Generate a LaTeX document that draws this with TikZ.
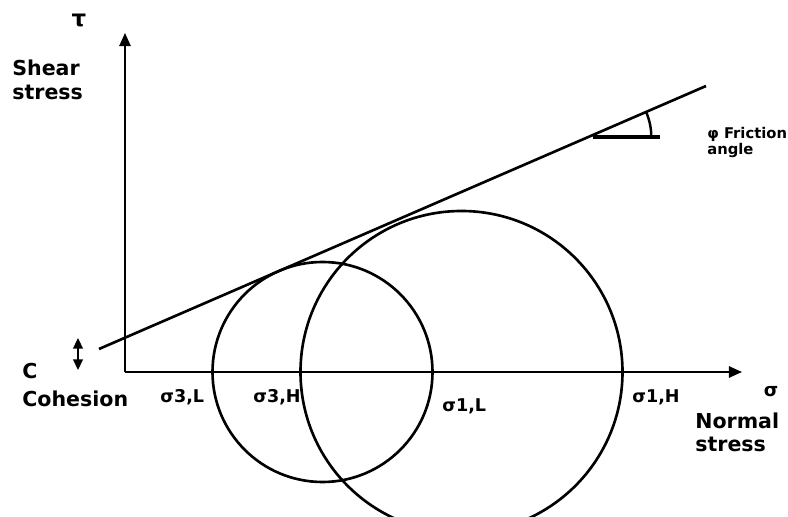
\documentclass[tikz,border=0pt]{standalone}
\usepackage{fontspec}
\setmainfont{DejaVu Sans}
\usetikzlibrary{arrows.meta}

\begin{document}
\begin{tikzpicture}[
    x=0.02cm, y=0.02cm,
    axis/.style={draw=black, line width=1pt, -{Triangle[length=7.5pt, width=6.5pt]}},
    mohr/.style={draw=black, line width=1.5pt},
    envelope/.style={draw=black, line width=1.5pt},
    biglabel/.style={font=\fontsize{11.7}{14.2}\selectfont\bfseries, align=left, anchor=base west, inner sep=0pt},
    sigmalabel/.style={font=\fontsize{10}{11}\selectfont\bfseries, anchor=base west, inner sep=0pt}
]
    \clip (0,0) rectangle (788,517);

    % Assi (tau verticale, sigma orizzontale)
    \coordinate (O) at (125,145);
    \coordinate (tauend) at (125,484);
    \coordinate (sigend) at (742,145);
    \draw[axis] (O) -- (tauend);
    \draw[axis] (O) -- (sigend);

    % Cerchi di Mohr (prova L e prova H)
    \draw[mohr] (322.5,145) circle[radius=110];
    \draw[mohr] (461.5,145) circle[radius=161];

    % Inviluppo di rottura
    \coordinate (envA) at (99,168);
    \coordinate (envB) at (706,431);
    \draw[envelope] (envA) -- (envB);

    % Angolo di attrito
    \coordinate (phiC) at (588.3,380);
    \coordinate (phiL) at (593,380);
    \coordinate (phiR) at (660,380);
    \draw[line width=1.9pt] (phiL) -- (phiR);
    \draw[line width=1.4pt] ([shift={(0:63)}]phiC) arc[start angle=0, end angle=23.4, radius=63];

    % Coesione (freccia doppia)
    \coordinate (cTop) at (78,179);
    \coordinate (cBot) at (78,147);
    \draw[line width=1pt, {Triangle[length=6pt, width=5.5pt]}-{Triangle[length=6pt, width=5.5pt]}] (cTop) -- (cBot);

    % Etichette degli assi (ancorate alla base dell'ultima riga)
    \node[font=\fontsize{13}{15}\selectfont\bfseries] (tau) at (79,497) {τ};
    \node[biglabel] (shear) at (12,417) {Shear\\stress};
    \node[font=\fontsize{10.5}{12}\selectfont\bfseries] (sigma) at (771,125) {σ};
    \node[biglabel, font=\fontsize{11.7}{13.6}\selectfont\bfseries] (normal) at (695,65) {Normal\\stress};
    \node[biglabel, font=\fontsize{11.7}{16.4}\selectfont\bfseries] (cohesion) at (22,110) {C\\Cohesion};
    \node[biglabel, font=\fontsize{8.4}{8}\selectfont\bfseries] (friction) at (707,362) {φ Friction\\angle};

    % Tensioni principali
    \node[sigmalabel] (s3L) at (160,114) {σ3,L};
    \node[sigmalabel] (s3H) at (253,114) {σ3,H};
    \node[sigmalabel] (s1L) at (442,105) {σ1,L};
    \node[sigmalabel] (s1H) at (632,114) {σ1,H};

\end{tikzpicture}
\end{document}
